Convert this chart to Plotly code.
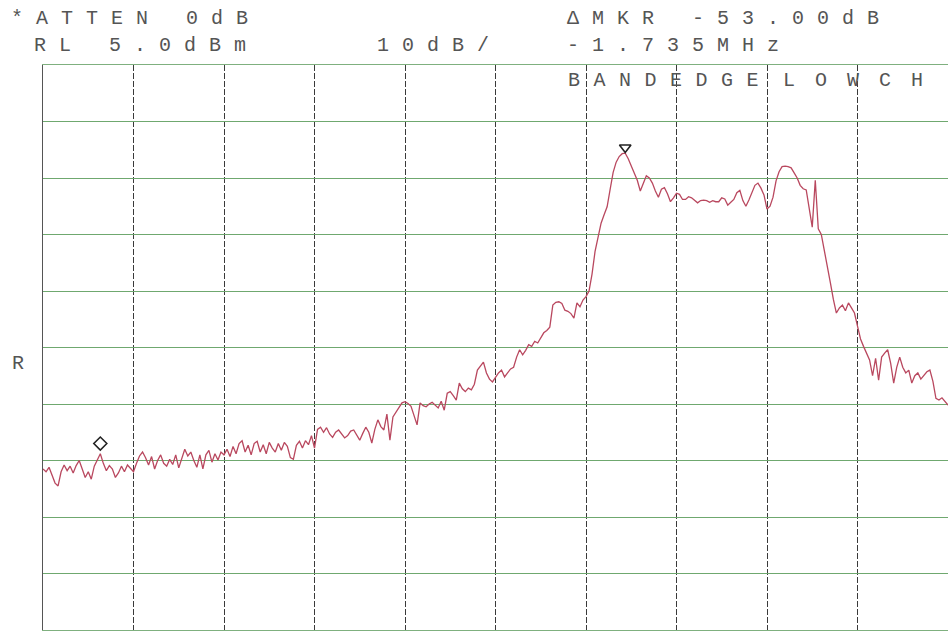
import numpy as np
import plotly.graph_objects as go

# Sweep: relative frequency (MHz), 0.3 MHz/div, 10 divisions
F_START = 0.0
F_STOP = 3.0
REF_LEVEL = 5.0      # dBm (top of screen)
DB_PER_DIV = 10.0

# Trace levels in dBm (301 sweep points)
levels = [
    -66.5, -67.0, -66.2, -67.5, -69.0, -69.5, -67.0, -65.8, -66.8, -66.0,
    -67.2, -65.9, -65.0, -66.5, -68.0, -67.0, -68.3, -66.0, -64.8, -63.8,
    -65.5, -66.8, -65.9, -66.5, -68.0, -67.2, -66.0, -67.0, -65.8, -66.5,
    -67.0, -65.5, -64.2, -63.5, -64.5, -65.8, -64.3, -66.5, -65.0, -64.0,
    -65.5, -66.0, -64.8, -65.7, -64.0, -66.3, -64.5, -63.0, -64.2, -63.5,
    -65.0, -66.2, -64.0, -66.5, -64.0, -63.2, -65.3, -63.8, -64.9, -63.5,
    -64.0, -63.0, -64.3, -62.5, -63.8, -62.0, -61.5, -63.5, -62.3, -64.0,
    -62.0, -61.6, -63.5, -62.2, -63.8, -61.8, -62.8, -63.5, -62.0, -63.2,
    -61.8, -62.5, -64.5, -64.8, -62.3, -61.6, -62.8, -61.5, -62.2, -60.6,
    -62.8, -59.5, -59.1, -60.0, -59.2, -60.3, -60.9, -60.0, -59.6, -60.4,
    -61.0, -60.6, -59.8, -59.6, -60.5, -61.4, -60.2, -59.1, -60.0, -61.9,
    -59.5, -57.8, -59.0, -59.6, -56.8, -61.4, -57.3, -56.5, -55.5, -54.8,
    -54.6, -54.9, -55.4, -57.0, -58.7, -54.8, -55.3, -55.5, -55.0, -54.7,
    -55.2, -55.7, -54.5, -56.1, -53.1, -52.8, -53.5, -54.3, -51.3, -52.3,
    -52.8, -52.2, -52.5, -51.5, -49.0, -48.2, -47.6, -49.5, -50.6, -51.1,
    -50.3, -49.5, -49.0, -50.2, -49.5, -48.8, -48.5, -46.7, -45.4, -46.3,
    -45.5, -44.5, -44.8, -43.9, -44.2, -43.4, -42.4, -42.0, -41.4, -37.5,
    -37.0, -36.9, -37.2, -38.4, -38.6, -39.0, -39.8, -37.1, -37.8, -36.6,
    -36.0, -35.0, -32.0, -28.0, -25.5, -23.0, -21.5, -20.1, -17.0, -14.0,
    -12.2, -11.2, -10.7, -10.6, -11.6, -12.8, -14.0, -15.4, -17.3, -16.0,
    -14.6, -15.0, -15.9, -17.3, -18.4, -17.0, -16.7, -17.8, -19.2, -18.5,
    -17.7, -17.9, -18.8, -18.8, -18.3, -18.5, -19.0, -19.4, -19.0, -18.9,
    -19.0, -19.3, -19.0, -19.2, -19.2, -18.5, -18.7, -19.8, -19.3, -18.8,
    -17.6, -17.2, -19.0, -20.0, -18.9, -17.5, -16.3, -15.9, -16.8, -18.0,
    -20.5, -20.0, -18.4, -15.5, -13.9, -13.0, -12.9, -13.0, -13.2, -14.1,
    -15.0, -16.3, -16.9, -17.1, -20.1, -23.7, -15.4, -24.0, -25.0, -27.7,
    -30.5, -33.5, -36.5, -38.9, -38.0, -37.5, -38.5, -37.1, -38.0, -38.9,
    -41.2, -43.5, -44.8, -46.0, -47.2, -50.0, -46.9, -50.8, -46.7, -46.0,
    -45.4, -47.8, -51.3, -48.5, -46.7, -48.5, -49.5, -49.0, -51.3, -50.0,
    -49.5, -50.6, -50.0, -49.3, -49.0, -51.0, -54.0, -54.3, -53.9, -54.5,
    -55.2,
]

REF_MARKER_IDX = 193    # reference marker (peak)
DELTA_MARKER_IDX = 19   # delta marker

header_left = ["*ATTEN 0dB", "RL 5.0dBm"]
header_mid = "10dB/"
header_right = ["ΔMKR -53.00dB", "-1.735MHz"]
title_words = ["BANDEDGE", "LOWCH"]
side_label = "R"

freqs = np.linspace(F_START, F_STOP, len(levels))

fig = go.Figure()
fig.add_trace(go.Scatter(
    x=freqs, y=levels, mode="lines",
    line=dict(color="#b9485f", width=1.3),
    hoverinfo="skip", showlegend=False,
))
fig.add_trace(go.Scatter(
    x=[freqs[DELTA_MARKER_IDX]], y=[levels[DELTA_MARKER_IDX] + 1.8],
    mode="markers",
    marker=dict(symbol="diamond-open", size=10, color="#222",
                line=dict(width=1.6, color="#222")),
    hoverinfo="skip", showlegend=False,
))
fig.add_trace(go.Scatter(
    x=[freqs[REF_MARKER_IDX]], y=[levels[REF_MARKER_IDX] + 1.0],
    mode="markers",
    marker=dict(symbol="triangle-down-open", size=10, color="#222",
                line=dict(width=1.6, color="#222")),
    hoverinfo="skip", showlegend=False,
))

W, H = 948, 639
L, R, T, B = 43, 0, 65, 9
PW, PH = W - L - R, H - T - B


def add_text(text, left_px, cy_px, spacing=13.0, size=20):
    # letter-spacing on all but the last character, so no trailing gap
    body = f'<span style="letter-spacing:{spacing}px">{text[:-1]}</span>{text[-1]}'
    fig.add_annotation(
        x=(left_px - L) / PW, y=(H - B - cy_px) / PH,
        xref="paper", yref="paper", xanchor="left", yanchor="middle",
        showarrow=False, borderpad=0,
        text=body,
        font=dict(family="Liberation Mono", size=size, color="#555"),
    )


add_text(header_left[0], 10, 19)
add_text(header_left[1], 33, 46)
add_text(header_mid, 376, 46)
add_text(header_right[0], 566, 19)
add_text(header_right[1], 566, 46)
add_text(title_words[0], 567, 80, spacing=13.5)
add_text(title_words[1], 782, 80, spacing=20.0)
add_text(side_label, 11, 363)

fig.update_layout(
    width=W, height=H,
    margin=dict(l=L, r=R, t=T, b=B, pad=0),
    paper_bgcolor="white", plot_bgcolor="white",
    showlegend=False,
    xaxis=dict(
        range=[F_START, F_STOP], tick0=F_START, dtick=(F_STOP - F_START) / 10,
        showticklabels=False, ticks="", showgrid=True,
        gridcolor="#3a3a3a", gridwidth=1, griddash="6px,2px",
        zeroline=False, showline=True, linecolor="#7fb07f", linewidth=1, mirror=True,
    ),
    yaxis=dict(
        range=[REF_LEVEL - 10 * DB_PER_DIV, REF_LEVEL],
        tick0=REF_LEVEL, dtick=DB_PER_DIV,
        showticklabels=False, ticks="", showgrid=True,
        gridcolor="#6fa86f", gridwidth=1,
        zeroline=False, showline=True, linecolor="#555", linewidth=1, mirror=False,
    ),
)

fig.write_html("out.html")
